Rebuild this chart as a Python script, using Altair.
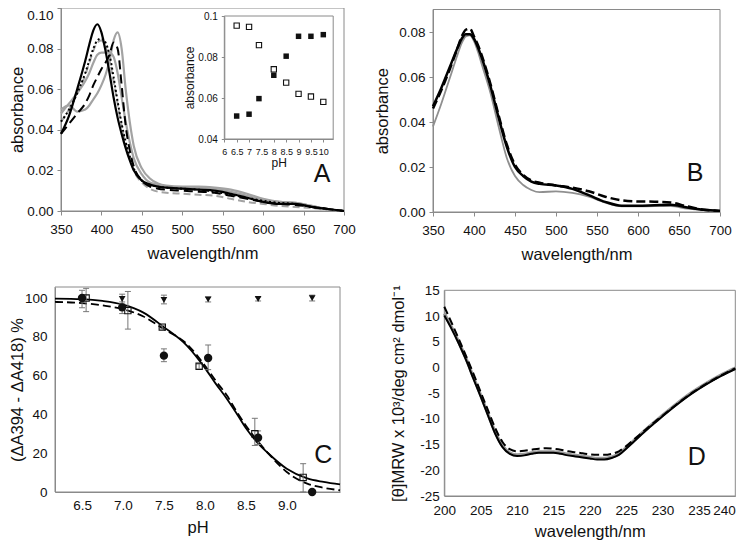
import altair as alt
import pandas as pd

W, H = 729, 533
FONT = "Liberation Sans"
FRAME = "#8a8a8a"
GRAY = "#a3a3a3"
INK = "#111111"

# ---------------- Panel A: spectra at several pH ----------------
A_wl = [350, 360, 370, 380, 385, 390, 395, 400, 405, 410, 415, 420, 425, 430, 435, 440,
        450, 460, 470, 480, 500, 520, 540, 560, 580, 600, 620, 640, 660, 680, 700]
A_black_solid = [.038, .047, .060, .074, .082, .089, .092, .088, .079, .068, .056, .046, .038, .031, .025, .020,
                 .015, .013, .012, .0115, .011, .0105, .010, .0085, .0065, .0045, .0035, .0035, .002, .001, .0]
A_black_dotted = [.044, .050, .058, .068, .074, .080, .084, .085, .083, .077, .066, .054, .043, .034, .027, .021,
                  .015, .013, .012, .0115, .011, .0105, .0095, .008, .0065, .005, .004, .0035, .002, .001, .0]
A_gray_broad = [.048, .053, .058, .064, .068, .073, .077, .078, .078, .078, .076, .068, .056, .044, .034, .026,
                .018, .014, .013, .012, .0115, .0115, .011, .0095, .0075, .0055, .0045, .004, .0025, .001, .0]
A_black_dashed = [.038, .043, .048, .053, .057, .062, .066, .070, .073, .077, .083, .080, .062, .042, .030, .022,
                  .015, .012, .011, .0105, .010, .0095, .009, .0075, .006, .0045, .0035, .003, .002, .001, .0]
A_gray_sharp = [.050, .052, .049, .050, .052, .055, .058, .062, .067, .074, .084, .088, .080, .060, .044, .032,
                .021, .016, .0135, .0125, .012, .012, .0115, .0105, .0085, .006, .0045, .004, .0025, .001, .0]
A_gray_dashed = [.044, .050, .058, .067, .073, .079, .083, .084, .081, .074, .064, .053, .042, .033, .026, .020,
                 .014, .011, .0095, .009, .0085, .008, .0075, .006, .0045, .0035, .0025, .002, .0015, .0005, .0]

# inset of panel A
INS_ph = [6.5, 7.0, 7.4, 8.0, 8.5, 9.0, 9.5, 10.0]
INS_open = [0.0953, 0.0947, 0.0858, 0.0740, 0.0675, 0.0620, 0.0607, 0.0581]
INS_filled = [0.0512, 0.0521, 0.0597, 0.0711, 0.0804, 0.0901, 0.0901, 0.0909]

# ---------------- Panel B ----------------
B_wl = [350, 360, 370, 380, 385, 390, 395, 400, 405, 410, 420, 430, 440, 450, 460, 470, 480,
        500, 520, 540, 560, 580, 600, 620, 640, 660, 680, 700]
B_black_solid = [.047, .055, .064, .073, .077, .079, .079, .077, .073, .068, .056, .042, .029, .020, .016, .0135, .0125,
                 .0118, .0103, .0075, .0045, .0028, .0028, .003, .0032, .002, .001, .0005]
B_black_dashed = [.046, .054, .063, .073, .078, .081, .0815, .078, .074, .069, .057, .043, .030, .021, .0165, .014, .013,
                  .0118, .0108, .0092, .0068, .0052, .0047, .0046, .0042, .0025, .001, .0005]
B_gray = [.038, .048, .059, .070, .075, .078, .0785, .076, .071, .065, .053, .038, .024, .016, .012, .0098, .0088,
          .0092, .0085, .0068, .0042, .0025, .0025, .0026, .0026, .0015, .0008, .0004]

# ---------------- Panel C ----------------
C_circ_ph = [6.50, 6.99, 7.50, 8.04, 8.65, 9.31]
C_circ_val = [100, 95.2, 70.3, 69.1, 28.0, 0]
C_circ_lo = [95, 92, 67.2, 63.1, 24.5, 0]
C_circ_hi = [104, 98, 73.8, 75.8, 31.5, 0]
C_sq_ph = [6.55, 7.06, 7.48, 7.93, 8.61, 9.20]
C_sq_val = [100, 93.5, 85, 64.8, 30.0, 7.5]
C_sq_lo = [93, 84, 84, 63.5, 24, 0]
C_sq_hi = [105, 103.4, 86, 66, 38, 14.6]
C_tri_ph = [6.99, 7.50, 8.04, 8.65, 9.31]
C_tri_val = [99.5, 99, 99.3, 99.5, 100]
C_tri_lo = [97, 97, 98, 98.5, 98.5]
C_tri_hi = [102, 101.5, 100.5, 100.5, 101.5]
C_fit_ph = [6.17, 6.5, 6.75, 7.0, 7.25, 7.5, 7.78, 8.0, 8.13, 8.27, 8.38, 8.5, 8.63, 8.76, 9.0, 9.25, 9.45, 9.65]
C_fit_solid = [99.7, 99.4, 98.5, 96.6, 92.5, 85, 75.5, 64, 56, 48, 41, 33, 26, 20.5, 12, 7, 5.2, 3.9]
C_fit_dashed = [98, 97.4, 96.2, 94.3, 90.5, 84, 76.3, 65.2, 57.5, 49.7, 42, 34.3, 27, 20.6, 10.3, 4.3, 2.2, 0.9]

# ---------------- Panel D: CD spectra ----------------
D_wl = [200, 201, 202, 203, 204, 205, 206, 207, 208, 209, 210, 211, 212, 213, 214, 215, 216, 217,
        218, 219, 220, 221, 222, 223, 224, 225, 226, 227, 228, 229, 230, 232, 234, 236, 238, 240]
D_black_solid = [10.1, 7.5, 4.6, 1.4, -2.2, -5.7, -9.3, -12.9, -15.5, -16.8, -17.2, -17.1, -16.8, -16.6, -16.6,
                 -16.6, -16.8, -17.1, -17.3, -17.5, -17.7, -17.9, -17.9, -17.6, -17.0, -15.8, -14.5, -13.2,
                 -11.9, -10.7, -9.5, -7.2, -5.1, -3.3, -1.7, -0.3]
D_black_dashed = [11.8, 8.7, 5.5, 2.2, -1.2, -4.8, -8.3, -11.8, -14.5, -15.9, -16.3, -16.2, -16.0, -15.8, -15.7,
                  -15.8, -16.0, -16.3, -16.5, -16.7, -16.9, -17.0, -17.0, -16.8, -16.3, -15.3, -14.1, -12.9,
                  -11.7, -10.5, -9.4, -7.1, -5.0, -3.2, -1.6, -0.2]
D_gray = [10.5, 7.8, 4.9, 1.7, -1.9, -5.4, -9.0, -12.6, -15.2, -16.6, -17.0, -16.9, -16.6, -16.4, -16.4,
          -16.4, -16.6, -16.9, -17.1, -17.3, -17.5, -17.7, -17.7, -17.4, -16.8, -15.6, -14.3, -13.0,
          -11.7, -10.5, -9.3, -7.0, -4.9, -3.1, -1.5, -0.1]

# tick values
A_xticks = [350, 400, 450, 500, 550, 600, 650, 700]
A_yticks = [0.0, 0.02, 0.04, 0.06, 0.08, 0.10]
B_yticks = [0.0, 0.02, 0.04, 0.06, 0.08]
INS_xticks = [6, 6.5, 7, 7.5, 8, 8.5, 9, 9.5, 10]
INS_yticks = [0.04, 0.06, 0.08, 0.1]
C_xticks = [6.5, 7.0, 7.5, 8.0, 8.5, 9.0]
C_yticks = [0, 20, 40, 60, 80, 100]
D_xticks = [200, 205, 210, 215, 220, 225, 230, 235, 240]
D_yticks = [-25, -20, -15, -10, -5, 0, 5, 10, 15]


def ax(**kw):
    base = dict(grid=False, domainColor=FRAME, tickColor=FRAME, labelFont=FONT, titleFont=FONT,
                labelColor=INK, titleColor=INK, titleFontWeight="normal", labelFontSize=13.5,
                titleFontSize=16.5, labelOverlap=False, labelFlush=False, tickSize=4, labelPadding=4)
    base.update(kw)
    return alt.Axis(**base)


class Panel:
    def __init__(self, xdom, xrng, ydom, yrng, xaxis, yaxis):
        self.xs = alt.Scale(domain=xdom, range=xrng, nice=False, zero=False)
        self.ys = alt.Scale(domain=ydom, range=yrng, nice=False, zero=False)
        self.xdom, self.ydom = xdom, ydom
        self.xaxis, self.yaxis = xaxis, yaxis
        self.layers = []

    def enc(self, **extra):
        return dict(x=alt.X("x:Q", scale=self.xs, axis=self.xaxis),
                    y=alt.Y("y:Q", scale=self.ys, axis=self.yaxis), **extra)

    def frame(self):
        df = pd.DataFrame({"x": [self.xdom[0]], "x2": [self.xdom[1]], "y": [self.ydom[0]], "y2": [self.ydom[1]]})
        self.layers.append(alt.Chart(df).mark_rect(fillOpacity=0, stroke=FRAME, strokeWidth=1)
                           .encode(**self.enc(x2="x2:Q", y2="y2:Q")))

    def line(self, xv, yv, color, width, dash=None):
        df = pd.DataFrame({"x": xv, "y": yv})
        kw = dict(color=color, strokeWidth=width, interpolate="monotone", clip=True)
        if dash:
            kw["strokeDash"] = dash
        self.layers.append(alt.Chart(df).mark_line(**kw).encode(**self.enc()))

    def points(self, xv, yv, shape, size, filled, color=INK, sw=1.0):
        df = pd.DataFrame({"x": xv, "y": yv})
        self.layers.append(alt.Chart(df).mark_point(shape=shape, size=size, filled=filled, color=color,
                                                    strokeWidth=sw, opacity=1)
                           .encode(**self.enc()))

    def errbars(self, xv, lo, hi, color="#777777", cap=6):
        df = pd.DataFrame({"x": xv, "y": lo, "y2": hi})
        self.layers.append(alt.Chart(df).mark_rule(color=color, strokeWidth=1)
                           .encode(**self.enc(y2="y2:Q")))
        for vals in (lo, hi):
            dft = pd.DataFrame({"x": xv, "y": vals})
            self.layers.append(alt.Chart(dft).mark_tick(orient="horizontal", color=color, size=cap,
                                                        thickness=1, opacity=1)
                               .encode(**self.enc()))

    def letter(self, text, xv, yv):
        df = pd.DataFrame({"x": [xv], "y": [yv], "t": [text]})
        self.layers.append(alt.Chart(df).mark_text(font=FONT, fontSize=25, color=INK)
                           .encode(**self.enc(text="t:N")))

    def chart(self):
        return alt.layer(*self.layers)


# ---------- Panel A ----------
pA = Panel([350, 700], [53, 336], [0, 0.10], [203, 0],
           ax(orient="bottom", offset=203 - H, values=A_xticks, format="d", title="wavelength/nm",
              labelPadding=7, titlePadding=10),
           ax(orient="left", offset=-53, values=A_yticks, format=".2f", title="absorbance",
              titlePadding=1,
              labelBaseline={"condition": {"test": "datum.value >= 0.099", "value": "top"}, "value": "middle"}))
pA.frame()
pA.line(A_wl, A_gray_dashed, GRAY, 2, [7, 4])
pA.line(A_wl, A_gray_broad, GRAY, 2.2)
pA.line(A_wl, A_gray_sharp, GRAY, 2.2)
pA.line(A_wl, A_black_dashed, "#000000", 2, [9, 5])
pA.line(A_wl, A_black_dotted, "#000000", 2, [2, 2.5])
pA.line(A_wl, A_black_solid, "#000000", 2.2)
pA.letter("A", 672.8, 0.018)

# ---------- Inset ----------
pI = Panel([6, 10.4], [216.3, 325.2], [0.04, 0.1], [131, 8],
           ax(orient="bottom", offset=131 - H, values=INS_xticks, format="~g", title="pH",
              labelFontSize=9, titleFontSize=12, tickSize=3, labelPadding=5, titlePadding=1),
           ax(orient="left", offset=-216.3, values=INS_yticks, format="~g", title="absorbance",
              labelFontSize=10, titleFontSize=12, tickSize=3, labelPadding=4, titlePadding=1))
pI.frame()
pI.points(INS_ph, INS_open, "square", 28, False, sw=1.1)
pI.points(INS_ph, INS_filled, "square", 30, True)

# ---------- Panel B ----------
pB = Panel([350, 700], [425, 712], [0, 0.09], [204, 1.5],
           ax(orient="bottom", offset=204 - H, values=A_xticks, format="d", title="wavelength/nm",
              labelPadding=7, titlePadding=10),
           ax(orient="left", offset=-425, values=B_yticks, format=".2f", title="absorbance",
              titlePadding=8))
pB.frame()
pB.line(B_wl, B_gray, "#8f8f8f", 1.8)
pB.line(B_wl, B_black_dashed, "#000000", 2.5, [9, 4])
pB.line(B_wl, B_black_solid, "#000000", 2.5)
pB.letter("B", 669.5, 0.0173)

# ---------- Panel C ----------
pC = Panel([6.17, 9.65], [47, 332], [0, 105.7], [484, 279],
           ax(orient="bottom", offset=484 - H, values=C_xticks, format=".1f", title="pH",
              tickSize=0, labelPadding=6, titlePadding=8),
           ax(orient="left", offset=-47, values=C_yticks, format="d", title="(ΔA394 - ΔA418) %",
              tickSize=0, labelPadding=8, titlePadding=-1))
pC.frame()
pC.line(C_fit_ph, C_fit_dashed, "#000000", 1.8, [8, 4])
pC.line(C_fit_ph, C_fit_solid, "#000000", 1.8)
pC.errbars(C_sq_ph, C_sq_lo, C_sq_hi)
pC.errbars(C_circ_ph, C_circ_lo, C_circ_hi)
pC.errbars(C_tri_ph, C_tri_lo, C_tri_hi)
pC.points(C_sq_ph, C_sq_val, "square", 40, False, sw=1.1)
pC.points(C_circ_ph, C_circ_val, "circle", 70, True)
pC.points(C_tri_ph, C_tri_val, "triangle-down", 45, True)
pC.letter("C", 9.446, 19.1)

# ---------- Panel D ----------
pD = Panel([200, 240], [436.3, 727.3], [-25, 15], [488, 282.3],
           ax(orient="bottom", offset=488 - H, values=D_xticks, format="d", title="wavelength/nm",
              tickSize=0, labelPadding=7, titlePadding=7,
              labelAlign={"condition": {"test": "datum.value >= 240", "value": "right"}, "value": "center"}),
           ax(orient="left", offset=-436.3, values=D_yticks, title="[θ]MRW x 10³/deg cm² dmol⁻¹",
              labelExpr="datum.value < 0 ? '-' + abs(datum.value) : '' + datum.value",
              tickSize=0, labelPadding=5, titlePadding=13))
pD.frame()
pD.line(D_wl, D_gray, "#9a9a9a", 3.2)
pD.line(D_wl, D_black_dashed, "#000000", 2, [8, 4])
pD.line(D_wl, D_black_solid, "#000000", 2)
pD.letter("D", 234.7, -17.4)

chart = (
    alt.layer(pA.chart(), pI.chart(), pB.chart(), pC.chart(), pD.chart())
    .resolve_scale(x="independent", y="independent")
    .properties(width=W, height=H, padding=0, autosize=alt.AutoSizeParams(type="none"))
    .configure_view(stroke=None)
)

chart.save("out.html", embed_options={"renderer": "svg", "actions": False})
